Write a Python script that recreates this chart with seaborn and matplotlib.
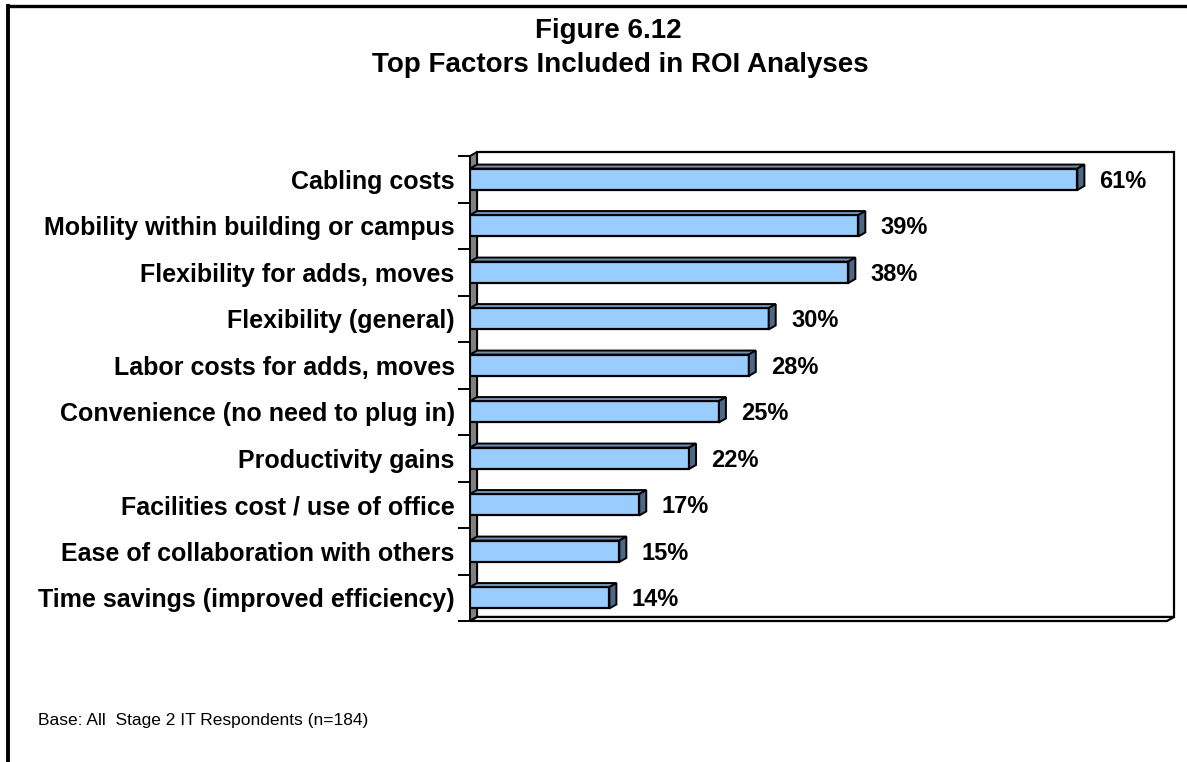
import matplotlib
matplotlib.use("Agg")
import matplotlib.pyplot as plt
from matplotlib.patches import Polygon, Rectangle
from matplotlib.lines import Line2D
import seaborn as sns
import pandas as pd

categories = [
    "Cabling costs",
    "Mobility within building or campus",
    "Flexibility for adds, moves",
    "Flexibility (general)",
    "Labor costs for adds, moves",
    "Convenience (no need to plug in)",
    "Productivity gains",
    "Facilities cost / use of office",
    "Ease of collaboration with others",
    "Time savings (improved efficiency)",
]
values = [61, 39, 38, 30, 28, 25, 22, 17, 15, 14]
title_lines = ["Figure 6.12", "Top Factors Included in ROI Analyses"]
footnote = "Base: All  Stage 2 IT Respondents (n=184)"

sns.set_theme(style="white")
plt.rcParams["font.family"] = ["Liberation Sans", "DejaVu Sans"]
plt.rcParams["text.color"] = "black"
plt.rcParams["ytick.color"] = "black"

W, H = 1187, 762
fig = plt.figure(figsize=(W / 100, H / 100), dpi=100)
fig.patch.set_facecolor("white")

# plot area in figure pixels
left, right, top, bottom = 470, 1167, 156, 621
ax = fig.add_axes([left / W, 1 - bottom / H, (right - left) / W, (bottom - top) / H])
ax.set_facecolor("none")

df = pd.DataFrame({"factor": categories, "pct": values})
BAR_H = 0.46
sns.barplot(data=df, x="pct", y="factor", orient="h", color="#99CCFF",
            saturation=1, edgecolor="black", linewidth=1.6, width=BAR_H, ax=ax, zorder=3)

XMAX = 70
n = len(categories)
ax.set_xlim(0, XMAX)
ax.set_ylim(n - 0.5, -0.5)

# depth of the 3-D effect, in data units
DX = 7 / ((right - left) / XMAX)
DY = 4 / ((bottom - top) / n)

# back wall, left wall and floor
ax.add_patch(Rectangle((DX, -0.5 - DY), XMAX, n, facecolor="white", edgecolor="black",
                       lw=1.6, clip_on=False, zorder=0))
ax.add_patch(Polygon([(0, -0.5), (0, n - 0.5), (DX, n - 0.5 - DY), (DX, -0.5 - DY)],
                     closed=True, facecolor="#808080", edgecolor="black", lw=1.4,
                     clip_on=False, zorder=1))
ax.add_patch(Polygon([(0, n - 0.5), (XMAX, n - 0.5), (XMAX + DX, n - 0.5 - DY), (DX, n - 0.5 - DY)],
                     closed=True, facecolor="white", edgecolor="black", lw=1.6,
                     clip_on=False, zorder=1))

# top and end faces of each bar, plus value labels
for i, v in enumerate(values):
    y_top = i - BAR_H / 2
    y_bot = i + BAR_H / 2
    ax.add_patch(Polygon([(0, y_top), (v, y_top), (v + DX, y_top - DY), (DX, y_top - DY)],
                         closed=True, facecolor="#7090B4", edgecolor="black", lw=1.4,
                         clip_on=False, zorder=4))
    ax.add_patch(Polygon([(v, y_top), (v, y_bot), (v + DX, y_bot - DY), (v + DX, y_top - DY)],
                         closed=True, facecolor="#4D6787", edgecolor="black", lw=1.4,
                         clip_on=False, zorder=4))
    ax.annotate(f"{v}%", xy=(v, i), xytext=(16, -1.5), textcoords="offset points",
                ha="left", va="center", fontsize=17, fontweight="bold", color="black")

for s in ax.spines.values():
    s.set_visible(False)

ax.set_xlabel("")
ax.set_ylabel("")
ax.set_xticks([])
ax.set_yticks(range(n))
ax.set_yticklabels(categories, fontsize=18, fontweight="bold", color="black")
ax.tick_params(axis="y", which="major", length=0, pad=11)
ax.set_yticks([i + 0.5 for i in range(-1, n)], minor=True)
ax.tick_params(axis="y", which="minor", length=8.5, width=1.4, color="black", left=True)

# titles and footnote
fig.text(608 / W, 1 - 31 / H, title_lines[0], ha="center", va="center",
         fontsize=20, fontweight="bold", color="black")
fig.text(620 / W, 1 - 65 / H, title_lines[1], ha="center", va="center",
         fontsize=20, fontweight="bold", color="black")
fig.text(38 / W, 1 - 721 / H, footnote, ha="left", va="center", fontsize=12.5, color="black")

# outer frame (top and left edges)
fig.add_artist(Line2D([8 / W, 1], [1 - 5.5 / H, 1 - 5.5 / H], color="black", lw=2.4,
                      transform=fig.transFigure, solid_capstyle="butt"))
fig.add_artist(Line2D([8 / W, 8 / W], [0, 1 - 4 / H], color="black", lw=2.8,
                      transform=fig.transFigure, solid_capstyle="butt"))

fig.savefig("out.png", dpi=100)
